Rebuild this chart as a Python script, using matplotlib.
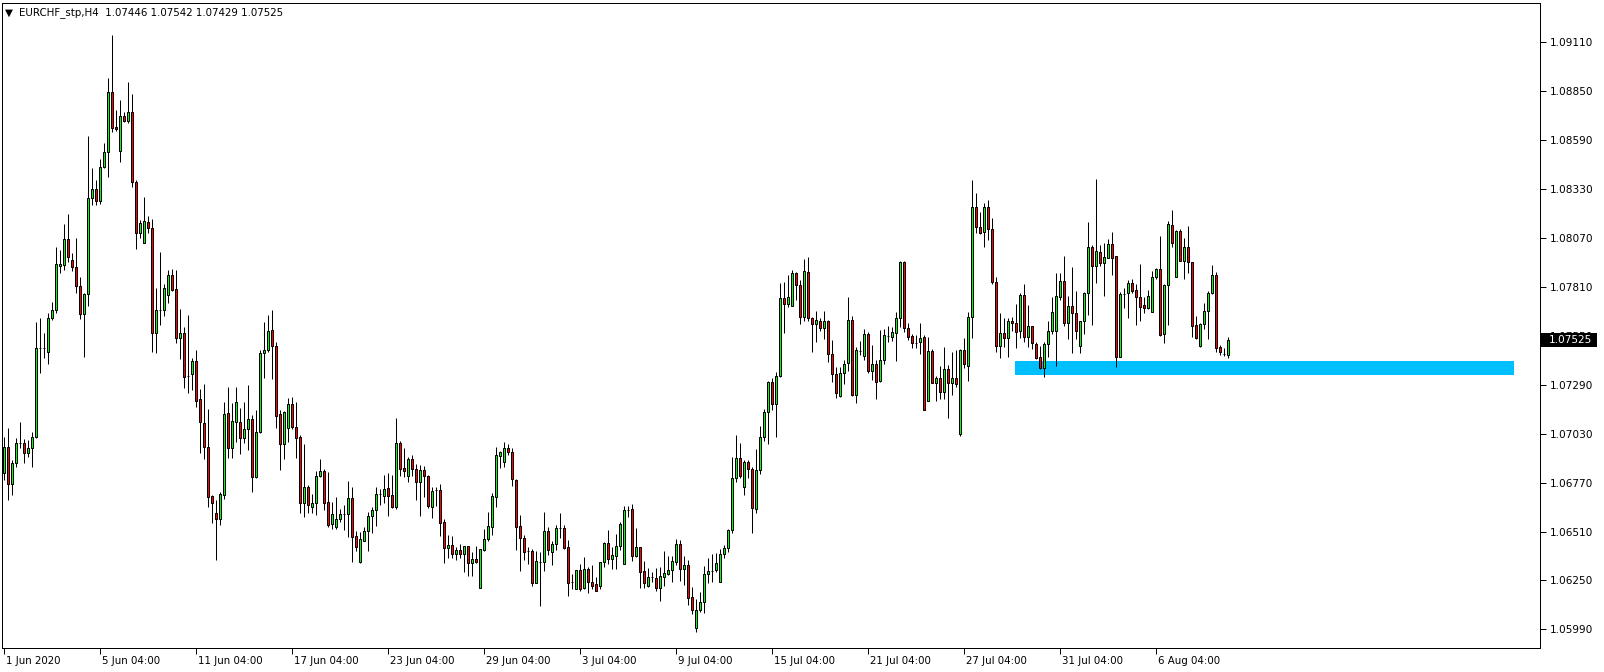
import matplotlib
matplotlib.use("Agg")
import matplotlib.pyplot as plt
from matplotlib.patches import Rectangle
import matplotlib.transforms as mtransforms

# EURCHF H4 candles (bar 0 = 1 Jun 2020 04:00)
opens = [
    1.06821, 1.06960, 1.06763, 1.06874, 1.06981, 1.06981, 1.06927, 1.06955, 1.07013, 1.07486,
    1.07486, 1.07463, 1.07645, 1.07687, 1.07920, 1.07925, 1.08064, 1.07952, 1.07915, 1.07814,
    1.07666, 1.07772, 1.08282, 1.08329, 1.08266, 1.08446, 1.08525, 1.08844, 1.08659, 1.08531,
    1.08717, 1.08691, 1.08738, 1.08366, 1.08096, 1.08043, 1.08154, 1.08123, 1.07565, 1.07687,
    1.07687, 1.07766, 1.07872, 1.07798, 1.07539, 1.07565, 1.07336, 1.07347, 1.07416, 1.07214,
    1.07087, 1.06960, 1.06699, 1.06609, 1.06577, 1.06704, 1.07140, 1.06955, 1.07092, 1.07092,
    1.07008, 1.07055, 1.07108, 1.06800, 1.07039, 1.07458, 1.07474, 1.07581, 1.07496, 1.07135,
    1.06976, 1.07061, 1.07188, 1.07066, 1.07013, 1.06662, 1.06747, 1.06641, 1.06662, 1.06805,
    1.06832, 1.06667, 1.06551, 1.06535, 1.06577, 1.06604, 1.06604, 1.06689, 1.06487, 1.06348,
    1.06461, 1.06514, 1.06593, 1.06625, 1.06710, 1.06699, 1.06742, 1.06704, 1.06641, 1.06981,
    1.06848, 1.06805, 1.06895, 1.06842, 1.06773, 1.06837, 1.06805, 1.06641, 1.06731, 1.06731,
    1.06561, 1.06424, 1.06439, 1.06391, 1.06412, 1.06391, 1.06434, 1.06343, 1.06364, 1.06211,
    1.06412, 1.06471, 1.06535, 1.06694, 1.06911, 1.06879, 1.06955, 1.06932, 1.06784, 1.06540,
    1.06477, 1.06407, 1.06407, 1.06237, 1.06348, 1.06348, 1.06514, 1.06401, 1.06445, 1.06530,
    1.06530, 1.06429, 1.06242, 1.06205, 1.06306, 1.06211, 1.06311, 1.06242, 1.06232, 1.06221,
    1.06348, 1.06450, 1.06364, 1.06380, 1.06434, 1.06338, 1.06625, 1.06630, 1.06380, 1.06429,
    1.06301, 1.06221, 1.06269, 1.06264, 1.06211, 1.06269, 1.06285, 1.06306, 1.06348, 1.06445,
    1.06311, 1.06332, 1.06163, 1.05999, 1.06094, 1.06136, 1.06285, 1.06301, 1.06306, 1.06242,
    1.06391, 1.06424, 1.06519, 1.06795, 1.06901, 1.06747, 1.06879, 1.06842, 1.06630, 1.06837,
    1.07013, 1.07145, 1.07304, 1.07188, 1.07336, 1.07751, 1.07719, 1.07708, 1.07883, 1.07819,
    1.07650, 1.07888, 1.07645, 1.07613, 1.07629, 1.07592, 1.07629, 1.07453, 1.07347, 1.07230,
    1.07352, 1.07405, 1.07634, 1.07235, 1.07469, 1.07442, 1.07560, 1.07363, 1.07400, 1.07310,
    1.07421, 1.07549, 1.07544, 1.07565, 1.07645, 1.07941, 1.07592, 1.07549, 1.07512, 1.07517,
    1.07544, 1.07204, 1.07469, 1.07299, 1.07326, 1.07251, 1.07373, 1.07299, 1.07326, 1.07029,
    1.07474, 1.07389, 1.07650, 1.08234, 1.08128, 1.08101, 1.08234, 1.08117, 1.07835, 1.07496,
    1.07565, 1.07539, 1.07629, 1.07618, 1.07576, 1.07766, 1.07544, 1.07602, 1.07507, 1.07437,
    1.07379, 1.07507, 1.07576, 1.07576, 1.07756, 1.07841, 1.07618, 1.07708, 1.07671, 1.07496,
    1.07629, 1.07777, 1.08022, 1.07920, 1.07994, 1.07936, 1.07963, 1.08038, 1.07973, 1.07437,
    1.07772, 1.07777, 1.07830, 1.07793, 1.07756, 1.07713, 1.07698, 1.07676, 1.07862, 1.07904,
    1.07560, 1.07819, 1.08138, 1.07862, 1.08107, 1.07947, 1.08022, 1.07941, 1.07607, 1.07496,
    1.07613, 1.07682, 1.07777, 1.07872, 1.07491, 1.07453, 1.07446,
]
highs = [
    1.07013, 1.07061, 1.06890, 1.07008, 1.07092, 1.07002, 1.06997, 1.07039, 1.07623, 1.07645,
    1.07565, 1.07671, 1.07729, 1.08022, 1.08005, 1.08144, 1.08197, 1.07989, 1.08070, 1.07862,
    1.07777, 1.08611, 1.08441, 1.08377, 1.08488, 1.08574, 1.08919, 1.09147, 1.08749, 1.08802,
    1.08738, 1.08897, 1.08834, 1.08377, 1.08165, 1.08287, 1.08186, 1.08170, 1.07804, 1.07994,
    1.07825, 1.07899, 1.07904, 1.07899, 1.07692, 1.07597, 1.07660, 1.07432, 1.07474, 1.07267,
    1.07294, 1.07161, 1.06704, 1.06678, 1.06720, 1.07198, 1.07278, 1.07193, 1.07278, 1.07167,
    1.07198, 1.07288, 1.07129, 1.07156, 1.07474, 1.07623, 1.07660, 1.07687, 1.07517, 1.07156,
    1.07151, 1.07220, 1.07225, 1.07198, 1.07023, 1.06976, 1.06757, 1.06710, 1.06832, 1.06895,
    1.06842, 1.06826, 1.06667, 1.06694, 1.06630, 1.06651, 1.06779, 1.06747, 1.06514, 1.06508,
    1.06535, 1.06614, 1.06641, 1.06747, 1.06736, 1.06810, 1.06821, 1.06810, 1.07114, 1.06992,
    1.06955, 1.06906, 1.06916, 1.06869, 1.06863, 1.06858, 1.06810, 1.06747, 1.06747, 1.06763,
    1.06577, 1.06492, 1.06487, 1.06429, 1.06445, 1.06434, 1.06434, 1.06401, 1.06434, 1.06418,
    1.06524, 1.06614, 1.06715, 1.06960, 1.06938, 1.06986, 1.06976, 1.06955, 1.06789, 1.06598,
    1.06492, 1.06429, 1.06418, 1.06407, 1.06401, 1.06614, 1.06535, 1.06461, 1.06545, 1.06609,
    1.06545, 1.06465, 1.06285, 1.06306, 1.06338, 1.06375, 1.06322, 1.06332, 1.06269, 1.06348,
    1.06455, 1.06519, 1.06429, 1.06498, 1.06561, 1.06646, 1.06646, 1.06657, 1.06530, 1.06429,
    1.06354, 1.06317, 1.06295, 1.06317, 1.06322, 1.06407, 1.06380, 1.06380, 1.06471, 1.06465,
    1.06380, 1.06359, 1.06216, 1.06152, 1.06189, 1.06327, 1.06370, 1.06391, 1.06396, 1.06418,
    1.06439, 1.06524, 1.06906, 1.07023, 1.06981, 1.06890, 1.06890, 1.06853, 1.06949, 1.07071,
    1.07161, 1.07310, 1.07326, 1.07357, 1.07830, 1.07835, 1.07872, 1.07899, 1.07888, 1.07846,
    1.07957, 1.07968, 1.07650, 1.07682, 1.07645, 1.07682, 1.07634, 1.07527, 1.07384, 1.07384,
    1.07421, 1.07756, 1.07655, 1.07491, 1.07523, 1.07586, 1.07570, 1.07501, 1.07421, 1.07581,
    1.07586, 1.07602, 1.07597, 1.07676, 1.07947, 1.07947, 1.07618, 1.07560, 1.07554, 1.07618,
    1.07554, 1.07544, 1.07480, 1.07336, 1.07389, 1.07491, 1.07394, 1.07463, 1.07474, 1.07480,
    1.07539, 1.07676, 1.08377, 1.08308, 1.08207, 1.08255, 1.08271, 1.08176, 1.07862, 1.07671,
    1.07645, 1.07645, 1.07650, 1.07719, 1.07777, 1.07825, 1.07713, 1.07602, 1.07517, 1.07496,
    1.07517, 1.07629, 1.07756, 1.07883, 1.07883, 1.07973, 1.07761, 1.07915, 1.07788, 1.07629,
    1.07782, 1.08154, 1.08032, 1.08382, 1.08032, 1.08043, 1.08064, 1.08101, 1.07973, 1.07782,
    1.07804, 1.07846, 1.07851, 1.07825, 1.07931, 1.07756, 1.07793, 1.07894, 1.07910, 1.08080,
    1.07825, 1.08160, 1.08218, 1.08112, 1.08117, 1.08070, 1.08133, 1.07941, 1.07655, 1.07618,
    1.07724, 1.07788, 1.07925, 1.07888, 1.07501, 1.07486, 1.07542,
]
lows = [
    1.06784, 1.06678, 1.06704, 1.06853, 1.06955, 1.06874, 1.06906, 1.06853, 1.07008, 1.07352,
    1.07432, 1.07400, 1.07634, 1.07671, 1.07883, 1.07899, 1.07941, 1.07894, 1.07777, 1.07639,
    1.07437, 1.07708, 1.08244, 1.08244, 1.08250, 1.08441, 1.08393, 1.08632, 1.08638, 1.08472,
    1.08685, 1.08680, 1.08340, 1.08011, 1.08070, 1.08043, 1.08096, 1.07463, 1.07458, 1.07607,
    1.07655, 1.07724, 1.07788, 1.07512, 1.07426, 1.07273, 1.07246, 1.07262, 1.07172, 1.06927,
    1.06895, 1.06641, 1.06556, 1.06359, 1.06545, 1.06683, 1.06901, 1.06901, 1.06986, 1.06922,
    1.06981, 1.06943, 1.06720, 1.06795, 1.07034, 1.07326, 1.07463, 1.07320, 1.07061, 1.06837,
    1.06895, 1.06986, 1.07055, 1.06901, 1.06609, 1.06588, 1.06609, 1.06609, 1.06598, 1.06800,
    1.06625, 1.06535, 1.06524, 1.06524, 1.06561, 1.06519, 1.06482, 1.06348, 1.06407, 1.06343,
    1.06461, 1.06407, 1.06503, 1.06540, 1.06651, 1.06662, 1.06593, 1.06636, 1.06630, 1.06805,
    1.06800, 1.06773, 1.06805, 1.06678, 1.06593, 1.06694, 1.06636, 1.06583, 1.06646, 1.06487,
    1.06343, 1.06370, 1.06370, 1.06359, 1.06370, 1.06295, 1.06274, 1.06274, 1.06343, 1.06211,
    1.06407, 1.06461, 1.06492, 1.06641, 1.06848, 1.06853, 1.06916, 1.06752, 1.06412, 1.06301,
    1.06359, 1.06338, 1.06221, 1.06237, 1.06115, 1.06301, 1.06385, 1.06332, 1.06412, 1.06477,
    1.06418, 1.06168, 1.06205, 1.06205, 1.06195, 1.06205, 1.06184, 1.06205, 1.06195, 1.06205,
    1.06322, 1.06338, 1.06311, 1.06311, 1.06412, 1.06338, 1.06588, 1.06354, 1.06375, 1.06211,
    1.06211, 1.06216, 1.06242, 1.06195, 1.06142, 1.06221, 1.06279, 1.06242, 1.06332, 1.06248,
    1.06226, 1.06120, 1.06073, 1.05977, 1.06083, 1.06078, 1.06237, 1.06242, 1.06295, 1.06242,
    1.06370, 1.06401, 1.06503, 1.06773, 1.06795, 1.06704, 1.06795, 1.06503, 1.06609, 1.06816,
    1.06992, 1.06976, 1.07156, 1.07013, 1.07331, 1.07565, 1.07703, 1.07708, 1.07740, 1.07613,
    1.07629, 1.07629, 1.07463, 1.07517, 1.07576, 1.07533, 1.07410, 1.07304, 1.07220, 1.07225,
    1.07294, 1.07363, 1.07230, 1.07193, 1.07447, 1.07421, 1.07352, 1.07315, 1.07214, 1.07304,
    1.07400, 1.07517, 1.07523, 1.07416, 1.07597, 1.07570, 1.07527, 1.07486, 1.07486, 1.07453,
    1.07156, 1.07204, 1.07299, 1.07204, 1.07214, 1.07214, 1.07114, 1.07235, 1.07278, 1.07018,
    1.07379, 1.07310, 1.07539, 1.08096, 1.08091, 1.08022, 1.08058, 1.07825, 1.07463, 1.07432,
    1.07491, 1.07437, 1.07576, 1.07486, 1.07539, 1.07517, 1.07491, 1.07480, 1.07426, 1.07373,
    1.07331, 1.07437, 1.07560, 1.07389, 1.07740, 1.07602, 1.07533, 1.07458, 1.07533, 1.07458,
    1.07560, 1.07660, 1.07607, 1.07830, 1.07920, 1.07761, 1.07963, 1.07872, 1.07384, 1.07437,
    1.07698, 1.07645, 1.07777, 1.07607, 1.07629, 1.07671, 1.07692, 1.07676, 1.07851, 1.07549,
    1.07512, 1.07607, 1.08022, 1.07862, 1.07947, 1.07851, 1.07883, 1.07544, 1.07533, 1.07491,
    1.07586, 1.07533, 1.07772, 1.07463, 1.07447, 1.07442, 1.07429,
]
closes = [
    1.06960, 1.06763, 1.06874, 1.06981, 1.06981, 1.06927, 1.06955, 1.07013, 1.07486, 1.07486,
    1.07486, 1.07645, 1.07687, 1.07931, 1.07931, 1.08064, 1.07968, 1.07915, 1.07814, 1.07666,
    1.07772, 1.08282, 1.08329, 1.08266, 1.08446, 1.08525, 1.08844, 1.08654, 1.08648, 1.08717,
    1.08691, 1.08738, 1.08366, 1.08096, 1.08149, 1.08160, 1.08123, 1.07565, 1.07687, 1.07687,
    1.07804, 1.07872, 1.07793, 1.07539, 1.07565, 1.07331, 1.07336, 1.07416, 1.07204, 1.07092,
    1.06960, 1.06694, 1.06662, 1.06577, 1.06710, 1.07135, 1.06955, 1.07098, 1.07198, 1.07008,
    1.07055, 1.07108, 1.06800, 1.07039, 1.07458, 1.07474, 1.07576, 1.07496, 1.07124, 1.06976,
    1.07145, 1.07188, 1.07066, 1.07008, 1.06662, 1.06747, 1.06651, 1.06662, 1.06805, 1.06832,
    1.06662, 1.06545, 1.06604, 1.06577, 1.06604, 1.06604, 1.06689, 1.06482, 1.06429, 1.06471,
    1.06514, 1.06593, 1.06625, 1.06710, 1.06710, 1.06736, 1.06699, 1.06641, 1.06981, 1.06842,
    1.06832, 1.06895, 1.06842, 1.06773, 1.06837, 1.06805, 1.06646, 1.06726, 1.06731, 1.06556,
    1.06424, 1.06439, 1.06391, 1.06412, 1.06391, 1.06434, 1.06343, 1.06364, 1.06348, 1.06418,
    1.06471, 1.06540, 1.06699, 1.06916, 1.06932, 1.06955, 1.06932, 1.06789, 1.06535, 1.06477,
    1.06401, 1.06407, 1.06237, 1.06354, 1.06348, 1.06514, 1.06412, 1.06445, 1.06530, 1.06530,
    1.06424, 1.06237, 1.06242, 1.06306, 1.06205, 1.06311, 1.06242, 1.06221, 1.06195, 1.06348,
    1.06450, 1.06364, 1.06385, 1.06434, 1.06551, 1.06625, 1.06625, 1.06380, 1.06429, 1.06295,
    1.06237, 1.06269, 1.06269, 1.06211, 1.06274, 1.06290, 1.06306, 1.06354, 1.06445, 1.06311,
    1.06332, 1.06158, 1.06094, 1.06094, 1.06136, 1.06285, 1.06301, 1.06301, 1.06343, 1.06391,
    1.06424, 1.06519, 1.06795, 1.06901, 1.06805, 1.06879, 1.06842, 1.06636, 1.06837, 1.07013,
    1.07145, 1.07304, 1.07188, 1.07336, 1.07751, 1.07719, 1.07756, 1.07883, 1.07819, 1.07650,
    1.07894, 1.07645, 1.07613, 1.07634, 1.07592, 1.07629, 1.07453, 1.07347, 1.07246, 1.07352,
    1.07400, 1.07634, 1.07236, 1.07474, 1.07469, 1.07560, 1.07363, 1.07400, 1.07304, 1.07421,
    1.07554, 1.07549, 1.07570, 1.07645, 1.07941, 1.07592, 1.07544, 1.07512, 1.07512, 1.07539,
    1.07156, 1.07469, 1.07299, 1.07326, 1.07251, 1.07373, 1.07299, 1.07326, 1.07294, 1.07474,
    1.07400, 1.07650, 1.08234, 1.08128, 1.08096, 1.08234, 1.08117, 1.07835, 1.07496, 1.07565,
    1.07539, 1.07629, 1.07618, 1.07570, 1.07766, 1.07544, 1.07602, 1.07512, 1.07432, 1.07379,
    1.07507, 1.07576, 1.07676, 1.07761, 1.07841, 1.07618, 1.07708, 1.07671, 1.07576, 1.07629,
    1.07777, 1.08022, 1.07920, 1.08000, 1.07936, 1.07968, 1.08038, 1.07963, 1.07437, 1.07772,
    1.07772, 1.07830, 1.07788, 1.07756, 1.07703, 1.07698, 1.07761, 1.07862, 1.07904, 1.07554,
    1.07819, 1.08144, 1.08043, 1.08107, 1.07947, 1.08022, 1.07941, 1.07602, 1.07539, 1.07613,
    1.07682, 1.07777, 1.07872, 1.07486, 1.07463, 1.07453, 1.07525,
]

# support zone (blue box) : start bar, end bar, bottom, top
zone_x = [252.75, 377.5]
zone_y = [1.07341, 1.07416]

xtick_bars = [0, 24, 48, 72, 96, 120, 144, 168, 192, 216, 240, 264, 288]
xtick_labels = ["1 Jun 2020", "5 Jun 04:00", "11 Jun 04:00", "17 Jun 04:00", "23 Jun 04:00",
                "29 Jun 04:00", "3 Jul 04:00", "9 Jul 04:00", "15 Jul 04:00", "21 Jul 04:00",
                "27 Jul 04:00", "31 Jul 04:00", "6 Aug 04:00"]
ytick_vals = [1.05990, 1.06250, 1.06510, 1.06770, 1.07030, 1.07290, 1.07550,
              1.07810, 1.08070, 1.08330, 1.08590, 1.08850, 1.09110]
last_price = 1.07525

W, H = 1604, 672
fig = plt.figure(figsize=(W / 100, H / 100), dpi=100)
ax = fig.add_axes([2 / W, (H - 648) / H, 1538 / W, 645 / H])

bull = "#00ff00"
bear = "#ff0000"
px = 0.72  # one pixel in points

n = len(closes)
xs = list(range(n))
ax.vlines(xs, lows, highs, color="black", linewidth=px, zorder=3)
for i in range(n):
    o, c = opens[i], closes[i]
    col = bull if c >= o else bear
    lo = min(o, c)
    hgt = abs(c - o)
    if hgt < 0.00003:
        ax.hlines(c, i - 0.3, i + 0.3, color="black", linewidth=px, zorder=4)
    else:
        ax.add_patch(Rectangle((i - 0.25, lo), 0.5, hgt, facecolor=col,
                               edgecolor="black", linewidth=px, zorder=4))

ax.add_patch(Rectangle((zone_x[0], zone_y[0]), zone_x[1] - zone_x[0], zone_y[1] - zone_y[0],
                       facecolor="#00bfff", edgecolor="none", zorder=2))

ax.set_xlim(-0.5, 384)
ax.set_ylim(1.058915, 1.09317)

for s in ax.spines.values():
    s.set_linewidth(px)
    s.set_color("black")

ax.yaxis.tick_right()
ax.set_yticks(ytick_vals)
ax.set_yticklabels(["%.5f" % v for v in ytick_vals])
ax.tick_params(axis="y", direction="out", length=4, width=px, pad=3, labelsize=7.6)

ax.set_xticks(xtick_bars)
ax.set_xticklabels(xtick_labels, ha="left")
ax.tick_params(axis="x", direction="out", length=4, width=px, pad=2, labelsize=7.4)
off = mtransforms.ScaledTranslation(2 / 100, 0, fig.dpi_scale_trans)
for lab in ax.get_xticklabels():
    lab.set_transform(lab.get_transform() + off)

# current price box on the right scale, drawn over the tick labels
ax_box = mtransforms.blended_transform_factory(fig.transFigure, ax.transData)
fig.add_artist(Rectangle((1541 / W, last_price - 0.00037), 56 / W, 0.00074,
                         transform=ax_box, facecolor="black", edgecolor="none", zorder=10))
fig.text(1549 / W, last_price, "%.5f" % last_price, transform=ax_box, ha="left",
         va="center", color="white", fontsize=7.6, zorder=11)

fig.text(5 / W, 1 - 13 / H, "\u25bc", fontsize=7.5, va="center", ha="left")
fig.text(19 / W, 1 - 13 / H, "EURCHF_stp,H4  1.07446 1.07542 1.07429 1.07525",
         fontsize=7.4, va="center", ha="left")

fig.savefig("out.png", dpi=100)
